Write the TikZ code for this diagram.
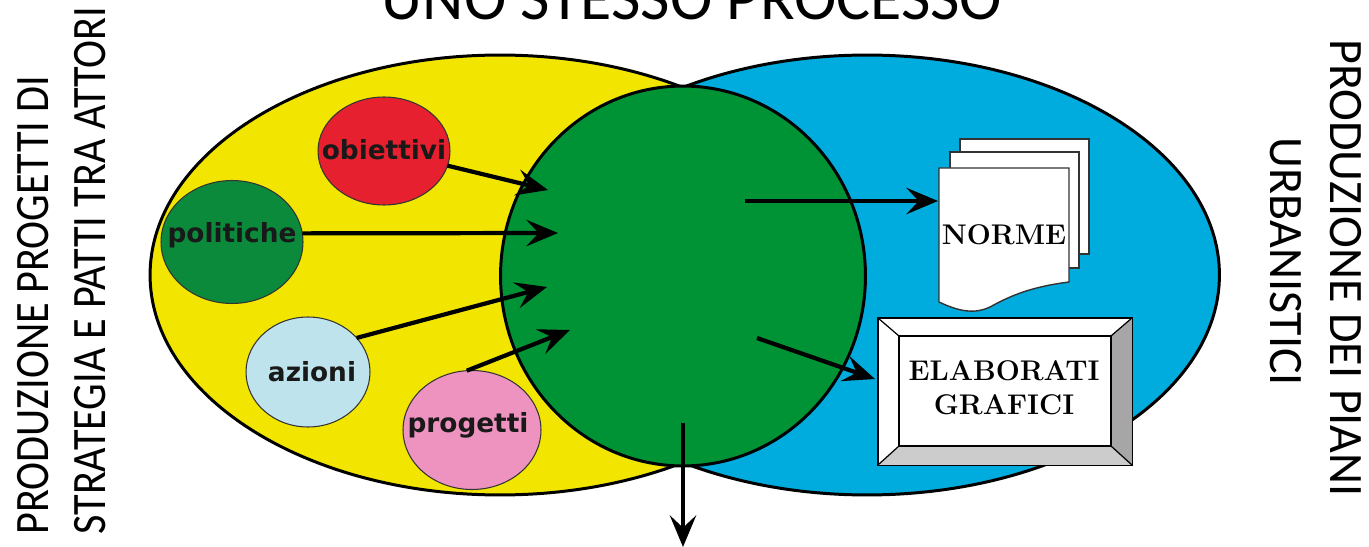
\documentclass[tikz,border=0pt]{standalone}
\usepackage{fontspec}
\usepackage{tikz}
\usetikzlibrary{arrows.meta}
\usetikzlibrary{shapes.geometric}
\newfontfamily\slidefont{Carlito}
\newfontfamily\slidenarrow[FakeStretch=0.88]{Carlito}
\newfontfamily\labelfont{DejaVu Sans}
\definecolor{setyellow}{HTML}{F2E600}
\definecolor{setblue}{HTML}{00ABDD}
\definecolor{setgreen}{HTML}{009336}
\definecolor{polgreen}{HTML}{0B8A3C}
\definecolor{objred}{HTML}{E6202E}
\definecolor{azblue}{HTML}{BFE3EC}
\definecolor{progpink}{HTML}{EE93BF}

\begin{document}
\begin{tikzpicture}[x=0.02cm,y=-0.02cm,
  bigset/.style={draw=black,line width=1.7pt,ellipse,inner sep=0pt,outer sep=0pt},
  smallset/.style={draw=black!80,line width=0.6pt,ellipse,inner sep=0pt,outer sep=0pt},
  settext/.style={font=\labelfont\bfseries\fontsize{15}{17}\selectfont,text=black!90},
  slidetext/.style={font=\slidefont\fontsize{27.3}{30}\selectfont,inner sep=0pt},
  sheet/.style={draw=black!80,fill=white,line width=0.8pt,inner sep=0pt,outer sep=0pt,anchor=north west},
  papertext/.style={font=\bfseries\fontsize{16.2}{19.5}\selectfont,text=black,inner sep=0pt,align=center},
  flow/.style={draw=black,line width=2.4pt,-{Stealth[length=18pt,width=15pt,inset=7pt]}}]
  \useasboundingbox (0,0) rectangle (1369,547);
  %big sets
  \node[bigset,fill=setblue,minimum width=14.1cm,minimum height=8.8cm] (plans) at (867,275) {};
  \node[bigset,fill=setyellow,minimum width=14cm,minimum height=8.8cm] (strategy) at (500,275) {};
  \node[bigset,fill=setgreen,minimum width=7.3cm,minimum height=7.6cm] (process) at (683,276) {};
  %left
  \node[smallset,fill=objred,minimum width=2.64cm,minimum height=2.16cm] (obiettivi) at (384,151) {};
  \node[settext] (obiettivitext) at (384,150) {obiettivi};
  \node[smallset,fill=polgreen,minimum width=2.84cm,minimum height=2.46cm] (politiche) at (232,242) {};
  \node[settext] (politichetext) at (232,235) {politiche};
  \node[smallset,fill=azblue,minimum width=2.48cm,minimum height=2.2cm] (azioni) at (308,372) {};
  \node[settext] (azionitext) at (312,372) {azioni};
  \node[smallset,fill=progpink,minimum width=2.76cm,minimum height=2.38cm] (progetti) at (472,430) {};
  \node[settext] (progettitext) at (468,425) {progetti};
  %right
  \node[sheet,minimum width=2.58cm,minimum height=2.3cm] (sheetback) at (960,139) {};
  \node[sheet,minimum width=2.58cm,minimum height=2.32cm] (sheetmid) at (950,152) {};
  \coordinate (sheettl) at (939,168);
  \coordinate (sheettr) at (1069,168);
  \coordinate (sheetbr) at (1069,282);
  \coordinate (sheetbl) at (939,302);
  \draw[draw=black!80,fill=white,line width=0.8pt] (sheettl) -- (sheettr) -- (sheetbr) .. controls (1030,287) and (1010,296) .. (990,307) .. controls (975,314) and (960,312) .. (sheetbl) -- cycle;
  \node[papertext] (normetext) at (1004,235) {NORME};
  \node[sheet,minimum width=5.08cm,minimum height=2.94cm,line width=1pt,draw=black] (frame) at (878,318) {};
  \fill[black!35] (frame.north east) -- (1111,336) -- (1111,446) -- (frame.south east) -- cycle;
  \fill[black!20] (frame.south west) -- (899,446) -- (1111,446) -- (frame.south east) -- cycle;
  \node[sheet,minimum width=4.24cm,minimum height=2.2cm,line width=1pt,draw=black] (inner) at (899,336) {};
  \draw[black,line width=0.7pt] (frame.north west) -- (inner.north west) (frame.north east) -- (inner.north east) (frame.south west) -- (inner.south west) (frame.south east) -- (inner.south east);
  \node[papertext] (elabtext) at (1004,388) {ELABORATI\\GRAFICI};
  %arrows
  \coordinate (inobiettivi) at (548,190);
  \coordinate (inpolitiche) at (558,233);
  \coordinate (inazioni) at (547,287);
  \coordinate (inprogetti) at (570,330);
  \coordinate (outnorme) at (938,201);
  \coordinate (outnormestart) at (745,201);
  \coordinate (outelab) at (875,379);
  \coordinate (outelabstart) at (757,338);
  \coordinate (outdown) at (683,547);
  \coordinate (outdownstart) at (683,423);
  \draw[flow] (obiettivi.-13) -- (inobiettivi);
  \draw[flow] (politiche.7) -- (inpolitiche);
  \draw[flow] (azioni.35) -- (inazioni);
  \draw[flow] (progetti.95) -- (inprogetti);
  \draw[flow] (outnormestart) -- (outnorme);
  \draw[flow] (outelabstart) -- (outelab);
  \draw[flow] (outdownstart) -- (outdown);
  %slide texts
  \node[slidetext,font=\slidefont\fontsize{36.4}{40}\selectfont,anchor=base] (title) at (692,20) {UNO STESSO PROCESSO};
  \node[slidetext,font=\slidenarrow\fontsize{27.3}{30}\selectfont,rotate=90,anchor=base west] (leftone) at (48,535) {PRODUZIONE PROGETTI DI};
  \node[slidetext,font=\slidenarrow\fontsize{27.3}{30}\selectfont,rotate=90,anchor=base west] (lefttwo) at (105,535) {STRATEGIA E PATTI TRA ATTORI};
  \node[slidetext,rotate=-90,anchor=base] (rightone) at (1330,268) {PRODUZIONE DEI PIANI};
  \node[slidetext,rotate=-90,anchor=base] (righttwo) at (1270,262) {URBANISTICI};
\end{tikzpicture}
\end{document}
